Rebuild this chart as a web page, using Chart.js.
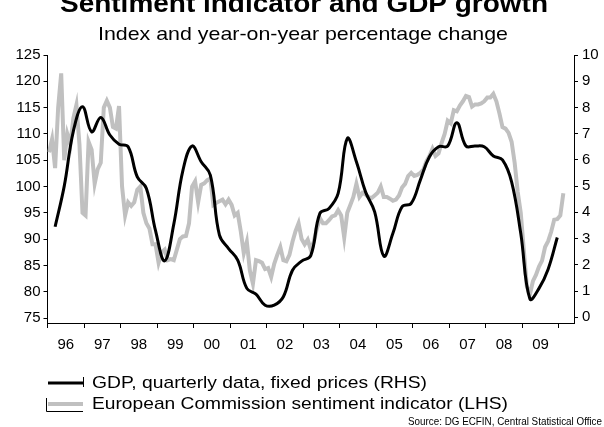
<!DOCTYPE html>
<html>
<head>
<meta charset="utf-8">
<script src="https://cdn.jsdelivr.net/npm/chart.js@4.4.1/dist/chart.umd.min.js"></script>
<style>
html, body { margin: 0; padding: 0; background: #fff; }
#wrap { width: 604px; height: 427px; }
</style>
</head>
<body>
<div id="wrap"><canvas id="chart" width="604" height="427"></canvas></div>
<script>
// year labels on the x axis (one per calendar year, 1996 - 2009)
const yearLabels = ['96', '97', '98', '99', '00', '01', '02', '03', '04', '05', '06', '07', '08', '09'];

// GDP y/y % change, quarterly, Q1 1996 - Q4 2009 (right axis)
const gdpQuarterly = [
    3.45, 5.0, 7.1, 8.03,
    7.07, 7.62, 6.95, 6.6,
    6.5, 5.35, 4.91, 3.3,
    2.15, 3.55, 5.6, 6.53,
    5.93, 5.42, 3.13, 2.62,
    2.18, 1.1, 0.88, 0.46,
    0.46, 0.78, 1.79, 2.14,
    2.35, 3.96, 4.15, 4.72,
    6.82, 5.93, 4.78, 4.02,
    2.33, 3.2, 4.21, 4.34,
    5.23, 6.12, 6.5, 6.53,
    7.42, 6.53, 6.53, 6.5,
    6.15, 6.0, 5.16, 3.2,
    0.7, 1.1, 1.83, 3.04
];

// EC sentiment indicator, monthly, Jan 1996 - Feb 2010 (left axis)
const sentimentMonthly = [
    106.5, 109, 103.5, 115, 121.5, 105, 110, 108, 113, 115.5, 108, 95,
    94.5, 108.5, 107, 100.5, 103.3, 104.5, 115, 116.3, 115, 111.3, 111, 115.3,
    100, 94.5, 97, 96.3, 97, 99.4, 100, 95, 93, 92, 89, 89,
    85.5, 87.5, 88, 86, 86.2, 86, 88, 90, 90.5, 90.6, 93, 100,
    101, 97, 100.3, 100.6, 101.2, 101.5, 96.5, 96.9, 97.2, 97.5, 96.6, 97.5,
    96.5, 94.5, 95, 91.5, 87.3, 89.5, 84, 81.5, 86, 85.8, 85.5, 84.3,
    84.5, 82.8, 85.3, 87, 88.5, 86, 85.8, 87, 89.5, 91.5, 93, 90,
    89, 89.9, 88, 89.5, 92, 94, 93, 93, 93.6, 94.3, 94.5, 95.5,
    94.5, 90.3, 95, 96.5, 98, 100.5, 98, 98.8, 98.5, 98, 97.8, 98.3,
    98.8, 100, 98, 98, 97.7, 97.3, 97.5, 98.3, 99.8, 100.5, 102, 102.6,
    102, 102.2, 102.6, 103.2, 104.8, 105.8, 107.2, 105.8, 106.3, 108.3, 110, 112.5,
    112, 114.5, 114.3, 115.4, 116.2, 117.2, 117, 115.2, 115.6, 115.6, 115.8, 116.2,
    116.9, 116.9, 117.6, 116.2, 113.9, 111.3, 111, 110.2, 108.5, 104.5, 99, 95,
    88, 81, 79.5, 82, 83.2, 84.8, 85.9, 88.5, 89.6, 91.4, 93.7, 93.8,
    94.5, 98.7
];

const leftTicks = [75, 80, 85, 90, 95, 100, 105, 110, 115, 120, 125];
const rightTicks = [0, 1, 2, 3, 4, 5, 6, 7, 8, 9, 10];

// months since Jan 1996, plotted at the middle of each month
const sentimentPoints = sentimentMonthly.map((v, i) => ({ x: i + 0.5, y: v }));
// quarterly values sit on the last month of their quarter
const gdpPoints = gdpQuarterly.map((v, i) => ({ x: i * 3 + 2.5, y: v }));

const FONT = '"Liberation Sans", Arial, sans-serif';

// draws text squeezed/stretched horizontally between left and right
function fitText(ctx, text, font, left, right, baseline) {
    ctx.save();
    ctx.font = font;
    const w = ctx.measureText(text).width;
    ctx.translate(left, baseline);
    ctx.scale((right - left) / w, 1);
    ctx.textAlign = 'left';
    ctx.textBaseline = 'alphabetic';
    ctx.fillStyle = '#000';
    ctx.fillText(text, 0, 0);
    ctx.restore();
}

const decorations = {
    id: 'decorations',
    afterDraw(chart) {
        const ctx = chart.ctx;
        fitText(ctx, 'Sentiment indicator and GDP growth', 'bold 25px ' + FONT, 60, 548, 12);
        fitText(ctx, 'Index and year-on-year percentage change', '19px ' + FONT, 98, 508, 40);

        // legend keys
        ctx.save();
        ctx.lineCap = 'butt';
        ctx.strokeStyle = '#000';
        ctx.lineWidth = 3;
        ctx.beginPath(); ctx.moveTo(48, 383); ctx.lineTo(83, 383); ctx.stroke();
        ctx.lineWidth = 1;
        ctx.beginPath(); ctx.moveTo(83.5, 377); ctx.lineTo(83.5, 387); ctx.stroke();
        ctx.strokeStyle = '#c0c0c0';
        ctx.lineWidth = 4;
        ctx.beginPath(); ctx.moveTo(48, 404); ctx.lineTo(83, 404); ctx.stroke();
        ctx.strokeStyle = '#000';
        ctx.lineWidth = 1;
        ctx.beginPath(); ctx.moveTo(46.5, 398); ctx.lineTo(46.5, 411.5); ctx.lineTo(83, 411.5); ctx.stroke();
        ctx.restore();

        fitText(ctx, 'GDP, quarterly data, fixed prices (RHS)', '17px ' + FONT, 92, 427, 388);
        fitText(ctx, 'European Commission sentiment indicator (LHS)', '17px ' + FONT, 92, 508, 409);
        fitText(ctx, 'Source: DG ECFIN, Central Statistical Office', '11px ' + FONT, 408, 602, 425);
    }
};

new Chart(document.getElementById('chart').getContext('2d'), {
    type: 'line',
    data: {
        datasets: [
            {
                label: 'GDP, quarterly data, fixed prices (RHS)',
                data: gdpPoints,
                yAxisID: 'y1',
                borderColor: '#000',
                borderWidth: 3,
                pointRadius: 0,
                tension: 0.4,
                fill: false
            },
            {
                label: 'European Commission sentiment indicator (LHS)',
                data: sentimentPoints,
                yAxisID: 'y',
                borderColor: '#c0c0c0',
                borderWidth: 4,
                pointRadius: 0,
                tension: 0,
                fill: false
            }
        ]
    },
    options: {
        responsive: false,
        animation: false,
        devicePixelRatio: 1,
        layout: { padding: { top: 55, left: 0, right: 0, bottom: 0 } },
        plugins: {
            legend: { display: false },
            tooltip: { enabled: false }
        },
        scales: {
            x: {
                type: 'linear',
                position: 'bottom',
                min: 0,
                max: 173,
                afterBuildTicks: (scale) => {
                    const t = [];
                    for (let i = 0; i <= yearLabels.length; i++) {
                        t.push({ value: i * 12 });
                        if (i < yearLabels.length) t.push({ value: i * 12 + 6 });
                    }
                    scale.ticks = t;
                },
                afterFit: (scale) => { scale.height = 104; },
                ticks: {
                    autoSkip: false,
                    maxRotation: 0,
                    padding: 8,
                    color: '#000',
                    font: { family: FONT, size: 15 },
                    callback: (v) => (v % 12 === 6 ? yearLabels[(v - 6) / 12] : '')
                },
                grid: {
                    drawOnChartArea: false,
                    tickLength: 5,
                    tickColor: (c) => (c.tick && c.tick.value % 12 === 0 ? '#000' : 'rgba(0,0,0,0)')
                },
                border: { color: '#000', width: 1 }
            },
            y: {
                position: 'left',
                min: 74.05,
                max: 125,
                afterBuildTicks: (scale) => { scale.ticks = leftTicks.map(v => ({ value: v })); },
                afterFit: (scale) => { scale.width = 47.5; },
                ticks: {
                    padding: 3,
                    color: '#000',
                    font: { family: FONT, size: 15 }
                },
                grid: { drawOnChartArea: false, tickLength: 4, tickColor: '#000' },
                border: { color: '#000', width: 1 }
            },
            y1: {
                position: 'right',
                min: -0.22,
                max: 10,
                afterBuildTicks: (scale) => { scale.ticks = rightTicks.map(v => ({ value: v })); },
                afterFit: (scale) => { scale.width = 30; },
                ticks: {
                    padding: 4,
                    color: '#000',
                    font: { family: FONT, size: 15 }
                },
                grid: { drawOnChartArea: false, tickLength: 4, tickColor: '#000' },
                border: { color: '#000', width: 1 }
            }
        }
    },
    plugins: [decorations]
});
</script>
</body>
</html>
